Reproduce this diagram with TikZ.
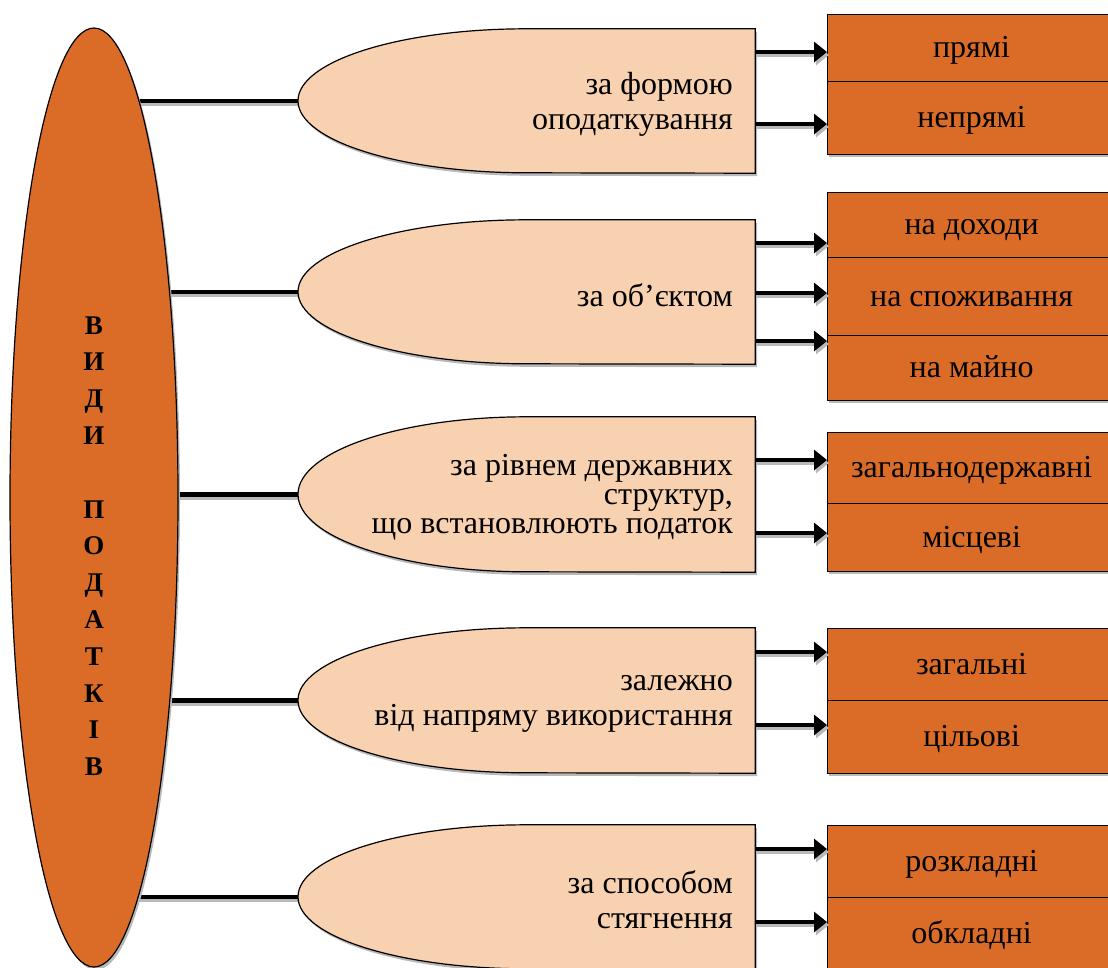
\documentclass[tikz,border=0pt]{standalone}
\usepackage{fontspec}
\setmainfont{Liberation Serif}
\usetikzlibrary{arrows.meta,shapes.geometric}
\definecolor{orng}{RGB}{218,108,40}
\definecolor{peach}{RGB}{248,209,176}
\definecolor{shd}{RGB}{185,185,185}
\pgfdeclarelayer{bg}
\pgfsetlayers{bg,main}
\newcommand\delayshape[5][]{%
  \node[holder, minimum height={2*#4pt}] (#2) at (526.5,#3) {};
  \fill[shd, transform canvas={shift={(2pt,-3pt)}}] (#2.north east) -- (#2.north) arc[start angle=90, end angle=270, x radius=228.5pt, y radius=#4pt] -- (#2.south east) -- cycle;
  \draw[shapeline, fill=peach] (#2.north east) -- (#2.north) arc[start angle=90, end angle=270, x radius=228.5pt, y radius=#4pt] -- (#2.south east) -- cycle;
  \node[stext,#1] (#2t) at (733,#3+3) {#5};
}
\begin{document}
\begin{tikzpicture}[x=1pt,y=-1pt,
  shapeline/.style={draw=black, line width=1.2pt},
  holder/.style={inner sep=0pt, minimum width=457pt},
  stext/.style={anchor=east, align=right, inner sep=0pt, font=\fontsize{32}{35}\selectfont},
  cell/.style={draw=black, line width=1.2pt, fill=orng, minimum width=288pt, anchor=north west, inner sep=0pt, text height=22pt, text depth=2.5pt, font=\fontsize{32}{35}\selectfont},
  conn/.style={line width=4.5pt},
  arr/.style={line width=4.5pt, -{Triangle[length=13pt,width=20pt]}},
  shdw/.style={draw=shd, transform canvas={shift={(2pt,-3pt)}}},
]
\useasboundingbox (0,0) rectangle (1108,967);

% big ellipse
\fill[shd, transform canvas={shift={(2pt,-3pt)}}] (94,497.5) ellipse[x radius=84pt, y radius=469.5pt];
\node[ellipse, draw=black, line width=1.2pt, fill=orng, minimum width=168pt, minimum height=939pt, inner sep=0pt] (ell) at (94,497.5) {};
\node[align=center, inner sep=0pt, font=\fontsize{27}{36.8}\selectfont\bfseries] (ellt) at (94,546)
  {В\\И\\Д\\И\\[36.8pt]П\\О\\Д\\А\\Т\\К\\І\\В};

% middle shapes
\delayshape{s1}{101}{72}{за формою\\оподаткування}
\delayshape{s2}{292}{72}{за об’єктом}
\delayshape[font=\fontsize{32}{29}\selectfont]{s3}{494.5}{77.5}{за рівнем державних\\структур,\\що встановлюють податок}
\delayshape{s4}{700.5}{72.5}{залежно\\від напряму використання}
\delayshape{s5}{897}{72}{за способом\\стягнення}

% cell shadows
\fill[shd, transform canvas={shift={(2pt,-3pt)}}] (827,14) rectangle (1115,154);
\fill[shd, transform canvas={shift={(2pt,-3pt)}}] (827,192) rectangle (1115,400);
\fill[shd, transform canvas={shift={(2pt,-3pt)}}] (827,432) rectangle (1115,571);
\fill[shd, transform canvas={shift={(2pt,-3pt)}}] (827,628) rectangle (1115,773);
\fill[shd, transform canvas={shift={(2pt,-3pt)}}] (827,825) rectangle (1115,969);

% cells
\node[cell, minimum height=67pt] (b11) at (827,14) {прямі};
\node[cell, minimum height=73pt] (b12) at (827,81) {непрямі};
\node[cell, minimum height=65pt] (b21) at (827,192) {на доходи};
\node[cell, minimum height=78pt] (b22) at (827,257) {на споживання};
\node[cell, minimum height=65pt] (b23) at (827,335) {на майно};
\node[cell, minimum height=71pt] (b31) at (827,432) {загальнодержавні};
\node[cell, minimum height=68pt] (b32) at (827,503) {місцеві};
\node[cell, minimum height=72pt] (b41) at (827,628) {загальні};
\node[cell, minimum height=73pt] (b42) at (827,700) {цільові};
\node[cell, minimum height=72pt] (b51) at (827,825) {розкладні};
\node[cell, minimum height=72pt] (b52) at (827,897) {обкладні};

% connectors from the big ellipse
\begin{pgfonlayer}{bg}
\foreach \s in {s1,s2,s3,s4,s5}{
  \draw[conn, shdw] (ell.center |- \s.west) -- (\s.west);
  \draw[conn] (ell.center |- \s.west) -- (\s.west);
}
\end{pgfonlayer}

% arrows
\foreach \s/\b/\yy in {s1/b11/52, s1/b12/124, s2/b21/243, s2/b22/293, s2/b23/341, s3/b31/460, s3/b32/533, s4/b41/652, s4/b42/725, s5/b51/849, s5/b52/922}{
  \draw[arr, shdw] (\s.east |- 0,\yy) -- (\b.west |- 0,\yy);
  \draw[arr] (\s.east |- 0,\yy) -- (\b.west |- 0,\yy);
}
\end{tikzpicture}
\end{document}
